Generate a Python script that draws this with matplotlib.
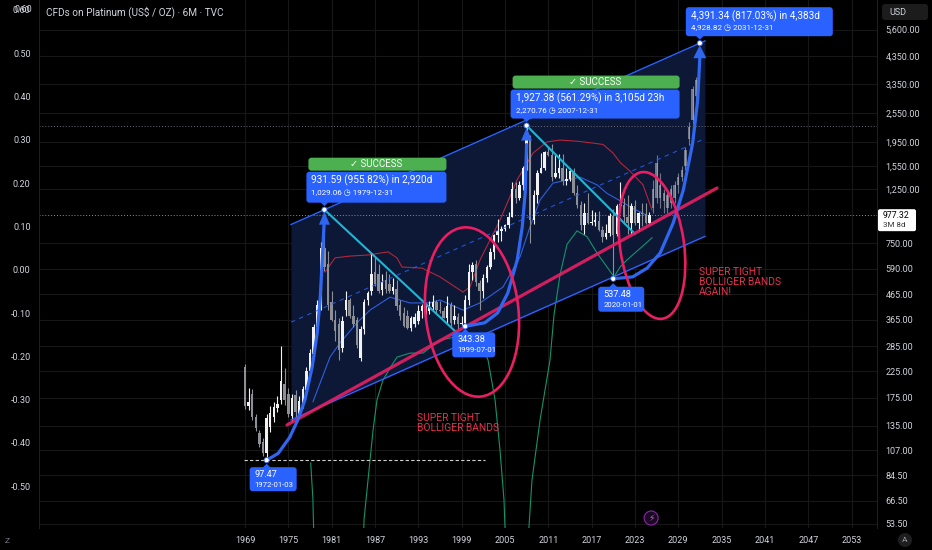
import numpy as np
import matplotlib
matplotlib.use("Agg")
import matplotlib.pyplot as plt
from matplotlib.patches import Ellipse, Polygon, Circle, FancyBboxPatch
from matplotlib.ticker import FixedLocator, NullLocator, FuncFormatter

plt.rcParams['font.family'] = ['Roboto', 'DejaVu Sans']

W, H = 932, 550
BG = '#000000'
TXT = '#d1d4dc'
BLUE = '#2962ff'
PINK = '#e91e63'
CYAN = '#22b5d3'
RED_TXT = '#e5334f'

# 6M candles, TVC platinum (date = start of the half year)
candle_dates = [1969.0 + 0.5 * i for i in range(113)]
opens = [234, 163, 182, 147, 126, 116, 104, 133, 146, 160,
         172, 200, 181, 148, 180, 150, 165, 188, 225, 265,
         340, 420, 720, 620, 430, 365, 350, 280, 400, 440,
         380, 365, 255, 335, 440, 480, 570, 560, 485, 530,
         510, 480, 490, 420, 390, 380, 338, 350, 360, 395,
         390, 395, 410, 430, 400, 395, 370, 420, 365, 375,
         350, 355, 440, 570, 615, 515, 480, 540, 600, 690,
         810, 840, 860, 890, 960, 1250, 1150, 1300, 1530, 2040,
         930, 1180, 1460, 1530, 1770, 1720, 1400, 1450, 1530, 1350,
         1370, 1480, 1200, 1080, 890, 1000, 905, 920, 925, 850,
         795, 830, 970, 815, 1070, 1080, 965, 910, 1070, 910,
         1000, 990, 910]
highs = [240, 192, 190, 150, 130, 120, 150, 162, 168, 178,
         285, 232, 192, 182, 188, 178, 196, 234, 278, 352,
         442, 760, 1029.06, 700, 480, 400, 370, 380, 480, 450,
         420, 375, 345, 445, 480, 687, 660, 620, 560, 580,
         560, 540, 530, 440, 410, 400, 380, 390, 420, 425,
         425, 435, 460, 440, 435, 410, 455, 430, 420, 390,
         380, 460, 620, 630, 640, 530, 560, 610, 720, 820,
         940, 880, 900, 1010, 1340, 1330, 1350, 1550, 2270.76, 2080,
         1240, 1500, 1750, 1790, 1860, 1910, 1720, 1740, 1740, 1530,
         1520, 1520, 1300, 1120, 1100, 1200, 1030, 1010, 1020, 880,
         900, 1000, 1040, 1090, 1340, 1150, 1180, 1100, 1130, 1010,
         1095, 1095, 1010]
lows = [158, 156, 142, 128, 110, 101, 97.47, 127, 140, 154,
        166, 164, 146, 140, 146, 145, 160, 184, 218, 258,
        330, 400, 580, 400, 360, 300, 250, 270, 380, 370,
        340, 280, 248, 320, 420, 460, 500, 470, 460, 470,
        470, 465, 400, 365, 340, 335, 330, 340, 350, 370,
        370, 385, 395, 390, 390, 370, 355, 340, 350, 335,
        345, 343.38, 420, 530, 500, 400, 450, 520, 590, 650,
        760, 770, 840, 870, 960, 1100, 1130, 1240, 1500, 750,
        900, 1100, 1450, 1500, 1700, 1350, 1380, 1380, 1300, 1300,
        1350, 1180, 1050, 850, 820, 900, 890, 880, 840, 760,
        780, 800, 537.48, 800, 1050, 900, 820, 820, 890, 840,
        880, 900, 900]
closes = [163, 168, 147, 132, 114, 104, 145, 152, 161, 166,
          205, 172, 151, 175, 153, 170, 190, 226, 266, 340,
          420, 720, 600, 420, 365, 330, 275, 360, 440, 380,
          350, 288, 335, 430, 470, 560, 510, 480, 520, 490,
          480, 495, 415, 380, 345, 338, 370, 375, 395, 415,
          395, 410, 430, 400, 395, 372, 415, 355, 380, 350,
          355, 440, 570, 610, 520, 480, 540, 600, 690, 810,
          840, 860, 890, 960, 1250, 1150, 1300, 1530, 2040, 930,
          1180, 1460, 1530, 1770, 1720, 1400, 1450, 1530, 1350, 1370,
          1480, 1200, 1080, 890, 1000, 905, 920, 925, 850, 795,
          830, 970, 810, 1070, 1080, 965, 910, 1070, 910, 1000,
          990, 910, 977.32]

# bars-pattern projection (faded bars)
proj_dates = [2025.5 + 0.5 * i for i in range(13)]
proj_open = [1050, 1150, 1300, 1120, 1050, 1100, 1150, 1300, 1400, 1550, 2000, 2400, 3000]
proj_high = [1360, 1720, 1450, 1250, 1230, 1300, 1350, 1450, 1550, 1850, 2350, 3300, 3600]
proj_low = [1000, 1100, 1050, 1000, 1000, 1050, 1100, 1200, 1350, 1500, 1900, 2300, 2800]
proj_close = [1250, 1600, 1150, 1200, 1180, 1250, 1300, 1400, 1500, 1800, 2250, 3200, 3500]

# bollinger bands
bb_up_dates = [1980.08, 1981.47, 1983.5, 1986.04, 1988.81, 1990.05, 1990.74, 1993.51, 1996.0,
               1999.19, 2000.16, 2001.55, 2004.32, 2006.67, 2008.89, 2010.83, 2012.63, 2015.0,
               2017.2, 2018.6, 2019.97, 2021.0, 2022.32, 2024.12, 2025.37]
bb_up = [572, 654, 665, 672, 692, 654, 600, 594, 547, 474, 497, 641, 934, 1360, 1753, 1947,
         1981, 1960, 1926, 1900, 1753, 1600, 1480, 1300, 1026]
bb_mid_dates = [1978.42, 1979.39, 1980.77, 1982.16, 1984.51, 1986.31, 1989.08, 1991.85, 1994.62,
                1996.0, 1999.19, 2001.55, 2004.73, 2007.09, 2008.47, 2009.86, 2011.66, 2013.6,
                2015.4, 2017.75, 2019.14, 2020.94, 2022.74, 2024.68]
bb_mid = [169, 201, 257, 294, 355, 400, 452, 428, 428, 440, 400, 428, 497, 660, 875, 1127,
          1322, 1360, 1397, 1300, 1200, 1120, 1040, 977]
bb_low_a_dates = [1978.1, 1978.4, 1978.7]
bb_low_a = [95, 68, 30]
bb_low_b_dates = [1985.3, 1985.48, 1986.04, 1986.73, 1987.28, 1988.11, 1989.08, 1990.05, 1991.85,
                  1993.65, 1994.9, 1996.0, 1998.0, 2000.0, 2001.5, 2002.66, 2003.63, 2004.32,
                  2004.87, 2005.3]
bb_low_b = [30, 55.5, 81, 129, 172, 207, 232, 257, 267, 267, 285, 302, 310, 320, 300, 250, 172,
            107, 67, 30]
bb_low_c_dates = [2007.8, 2008.75, 2009.86, 2011.24, 2011.8, 2012.63, 2013.6, 2014.98, 2016.37,
                  2017.75, 2019.14, 2020.11, 2020.94, 2021.9, 2023.0, 2024.3, 2025.37]
bb_low_c = [30, 81, 142, 250, 383, 558, 743, 843, 798, 685, 600, 547, 600, 641, 685, 740, 790]

# drawings
channel_dates = [1975.37, 2032.7]
channel_upper = [895, 5036]
channel_mid = [357, 2008]
channel_lower = [142.3, 800.6]
pink_dates = [1974.82, 2034.37]
pink_prices = [135.8, 1262]
cyan1_dates = [1980.0, 1999.0]
cyan1_prices = [1029.06, 310]
cyan2_dates = [2008.0, 2023.0]
cyan2_prices = [2270.76, 820]
arrow1_dates = [1972.0, 1973.6, 1975.2, 1976.3, 1977.3, 1978.3, 1979.0, 1979.4, 1979.7, 1979.95]
arrow1_prices = [97.47, 104, 121, 142, 172, 234, 323, 440, 641, 900]
arrow2_dates = [1999.5, 2002.2, 2004.0, 2005.4, 2006.7, 2007.4, 2007.8, 2008.0]
arrow2_prices = [343.38, 355, 390, 470, 641, 875, 1204, 1900]
arrow3_dates = [2020.0, 2022.7, 2024.7, 2026.5, 2028.3, 2029.7, 2031.0, 2031.7, 2031.99]
arrow3_prices = [537.48, 547, 594, 685, 908, 1237, 1926, 2889, 4300]
last_price = 977.32

price_ticks = [53.5, 66.5, 84.5, 107, 135, 175, 225, 285, 365, 465, 590, 750,
               1250, 1550, 1950, 2550, 3350, 4350, 5600]
year_ticks = list(range(1969, 2054, 6))
left_ticks = [-0.5, -0.4, -0.3, -0.2, -0.1, 0.0, 0.1, 0.2, 0.3, 0.4, 0.5, 0.6]

fig = plt.figure(figsize=(W / 100, H / 100), dpi=100, facecolor=BG)
ax = fig.add_axes([39 / W, 22 / H, 838 / W, 528 / H])
ax.set_facecolor(BG)
ax.set_yscale('log')
ax.set_ylim(51.5, 7400)
ax.set_xlim(1940.47, 2056.53)

axl = ax.twinx()
axl.patch.set_visible(False)
axl.set_ylim(-0.5965, 0.6229)
axl.yaxis.tick_left()
axl.yaxis.set_label_position('left')
axl.yaxis.set_major_locator(FixedLocator(left_ticks))
axl.yaxis.set_major_formatter(FuncFormatter(lambda v, _: f"{0.0 if abs(v) < 1e-9 else v:.2f}"))
axl.tick_params(axis='y', length=0, pad=6, labelsize=6.5, labelcolor=TXT)
for k, s in axl.spines.items():
    s.set_visible(k in ('left', 'right'))
    s.set_color('#1e1e1e')

ax.yaxis.tick_right()
ax.yaxis.set_major_locator(FixedLocator(price_ticks))
ax.yaxis.set_minor_locator(NullLocator())
ax.yaxis.set_major_formatter(FuncFormatter(lambda v, _: f"{v:,.2f}"))
ax.tick_params(axis='y', length=0, pad=6, labelsize=6.5, labelcolor=TXT,
               left=False, labelleft=False, right=True, labelright=True)
ax.xaxis.set_major_locator(FixedLocator(year_ticks))
ax.xaxis.set_major_formatter(FuncFormatter(lambda v, _: f"{int(round(v))}"))
ax.tick_params(axis='x', length=0, pad=6, labelsize=6.5, labelcolor=TXT)
ax.grid(True, color='#171717', lw=0.8)
ax.set_axisbelow(True)
for s in ax.spines.values():
    s.set_visible(False)

# channel
ax.fill_between(channel_dates, channel_lower, channel_upper, color='#0c1836', lw=0, zorder=1)
ax.plot(channel_dates, channel_upper, color=BLUE, lw=1.0, zorder=4)
ax.plot(channel_dates, channel_lower, color=BLUE, lw=1.0, zorder=4)
ax.plot(channel_dates, channel_mid, color=BLUE, lw=0.8, ls=(0, (4, 4)), alpha=0.8, zorder=4)

# bollinger bands
ax.plot(bb_up_dates, bb_up, color='#b3263a', lw=0.8, zorder=2)
ax.plot(bb_mid_dates, bb_mid, color='#2f5fe0', lw=0.8, zorder=2)
for d, v in ((bb_low_a_dates, bb_low_a), (bb_low_b_dates, bb_low_b), (bb_low_c_dates, bb_low_c)):
    ax.plot(d, v, color='#15936a', lw=0.8, zorder=2)


def draw_candles(dates, o, h, l, c, up_col, dn_col, alpha, z):
    d = np.asarray(dates)
    o, h, l, c = (np.asarray(a, dtype=float) for a in (o, h, l, c))
    cols = np.where(c >= o, up_col, dn_col)
    ax.vlines(d, l, h, colors=cols, lw=0.8, alpha=alpha, zorder=z)
    bot = np.minimum(o, c)
    top = np.maximum(np.maximum(o, c), bot * 1.012)
    ax.bar(d, top - bot, bottom=bot, width=0.34, color=cols, alpha=alpha, lw=0, zorder=z)


draw_candles(candle_dates, opens, highs, lows, closes, '#f2f2f2', '#8c8f96', 1.0, 3)
draw_candles(proj_dates, proj_open, proj_high, proj_low, proj_close, '#b4b6bc', '#b4b6bc', 0.6, 3)

# price lines
ax.axhline(2270.76, color='#6b6e78', lw=0.7, ls=(0, (1, 2)), zorder=2)
ax.axhline(last_price, color='#8a8d96', lw=0.7, ls=(0, (1, 2)), zorder=2)
ax.hlines(97.47, 1968.8, 2002.2, color='#cfcfcf', lw=0.8, ls=(0, (3, 2)), zorder=2)

# trend lines
ax.plot(cyan1_dates, cyan1_prices, color=CYAN, lw=1.5, zorder=4)
ax.plot(cyan2_dates, cyan2_prices, color=CYAN, lw=1.5, zorder=4)
ax.plot(pink_dates, pink_prices, color=PINK, lw=2.3, solid_capstyle='round', zorder=5, alpha=0.9)

for d, v in ((arrow1_dates, arrow1_prices), (arrow2_dates, arrow2_prices), (arrow3_dates, arrow3_prices)):
    ax.plot(d, v, color='#2f67f0', lw=2.3, solid_capstyle='round', zorder=6)

ax.text(1992.8, 152, "SUPER TIGHT\nBOLLIGER BANDS", color=RED_TXT, fontsize=7.4,
        va='top', ha='left', linespacing=1.0, zorder=8)
ax.text(2031.9, 600, "SUPER TIGHT\nBOLLIGER BANDS\nAGAIN!", color=RED_TXT, fontsize=7.4,
        va='top', ha='left', linespacing=1.0, zorder=8)

# ---- overlay in pixel space for labels / drawings
ov = fig.add_axes([0, 0, 1, 1], zorder=10)
ov.set_xlim(0, W)
ov.set_ylim(H, 0)
ov.axis('off')
ov.patch.set_alpha(0)


def px(t, p):
    x, y = ax.transData.transform((t, p))
    return x, H - y


def rbox(x0, y0, x1, y1, fc, r=3):
    ov.add_patch(FancyBboxPatch((x0, y0), x1 - x0, y1 - y0,
                                boxstyle=f"round,pad=0,rounding_size={r}", fc=fc, ec='none'))


# top left-scale label (sits right at the edge of the pane)
_, ytop = axl.transData.transform((0, left_ticks[-1]))
ov.text(32, H - ytop, f"{left_ticks[-1]:.2f}", color=TXT, fontsize=6.5, va='center', ha='right')

# hand drawn circles
cx, cy = px(2000.44, 393)
ov.add_patch(Ellipse((cx, cy), 93, 170, angle=-6, fill=False, ec=PINK, lw=1.9))
cx, cy = px(2025.37, 735)
ov.add_patch(Ellipse((cx, cy), 64, 148, angle=-8, fill=False, ec=PINK, lw=1.9))

# arrow heads
for t, p, hw in ((1980.0, 1029.06, 5.5), (2008.0, 2270.76, 5.5), (2031.99, 4928.82, 6.5)):
    x, y = px(t, p)
    ov.add_patch(Polygon([(x, y + 2), (x - hw, y + 15), (x + hw, y + 15)], closed=True,
                         fc='#2f67f0', ec='none'))

# measurement labels
labels = [
    # anchor date, price, rect offsets, line1, line2, success
    (1980.0, 1029.06, (-18, 122, -38, -7), "931.59 (955.82%) in 2,920d", "1,029.06 \u25f7 1979-12-31", True),
    (2008.0, 2270.76, (-16, 153, -36, -7), "1,927.38 (561.29%) in 3,105d 23h", "2,270.76 \u25f7 2007-12-31", True),
    (2031.99, 4928.82, (-14, 133, -36, -7), "4,391.34 (817.03%) in 4,383d", "4,928.82 \u25f7 2031-12-31", False),
    (1972.0, 97.47, (-17, 30, 7, 31), "97.47", "1972-01-03", False),
    (1999.5, 343.38, (-13, 30, 6, 31), "343.38", "1999-07-01", False),
    (2020.0, 537.48, (-15, 31, 8, 33), "537.48", "2020-01-01", False),
]
for t, p, (dx0, dx1, dy0, dy1), l1, l2, ok in labels:
    x, y = px(t, p)
    x0, x1, y0, y1 = x + dx0, x + dx1, y + dy0, y + dy1
    rbox(x0, y0, x1, y1, BLUE)
    big = (y1 - y0) > 27
    if dy0 < 0:
        ov.add_patch(Polygon([(x - 4, y1 - 0.5), (x + 4, y1 - 0.5), (x, y1 + 3.5)], fc=BLUE, ec='none'))
        fs1, fs2 = 7.2, 5.8
    else:
        ov.add_patch(Polygon([(x - 4, y0 + 0.5), (x + 4, y0 + 0.5), (x, y0 - 3.5)], fc=BLUE, ec='none'))
        fs1, fs2 = 6.6, 5.6
    ov.text(x0 + 5, y0 + (9 if big else 7.5), l1, color='white', fontsize=fs1, va='center', ha='left')
    ov.text(x0 + 5, y0 + (21 if big else 18), l2, color='white', fontsize=fs2, va='center', ha='left')
    if ok:
        rbox(x0 + 2, y0 - 14, x1, y0 - 1, '#4caf50')
        ov.text((x0 + x1) / 2, y0 - 7.5, "\u2713 SUCCESS", color='white', fontsize=7,
                va='center', ha='center')
    ov.add_patch(Circle((x, y), 2.6, fc='white', ec=BLUE, lw=0.6))

# title and chrome
ov.text(46, 12, "CFDs on Platinum (US$ / OZ) \u00b7 6M \u00b7 TVC", color=TXT, fontsize=7.2,
        va='center', ha='left')
rbox(882, 4, 928, 20, '#1c1c1c')
ov.text(889, 12.5, "USD", color=TXT, fontsize=6.5, va='center', ha='left')

x, y = px(2055, last_price)
ov.add_patch(FancyBboxPatch((878, y - 6), 38, 22, boxstyle="round,pad=0,rounding_size=2",
                            fc='white', ec='none'))
ov.text(883, y, "977.32", color='black', fontsize=6.3, va='center', ha='left')
ov.text(883, y + 10, "3M 8d", color='#333333', fontsize=5.8, va='center', ha='left')

ov.add_patch(Circle((905, 540), 7, fc='#1e1e1e', ec='none'))
ov.text(905, 540.5, "A", color='#9a9da6', fontsize=6, va='center', ha='center')
ov.text(7, 541, "Z", color='#787b86', fontsize=6, va='center', ha='center')

x, _ = px(2025.25, 500)
ov.add_patch(Circle((x, 518), 7, fc='#1a0b22', ec='#8e24aa', lw=0.8))
ov.text(x, 518.5, "\u26a1", color='#ba68c8', fontsize=6.5, va='center', ha='center',
        family=['DejaVu Sans'])

fig.savefig('out.png', dpi=100, facecolor=BG)
